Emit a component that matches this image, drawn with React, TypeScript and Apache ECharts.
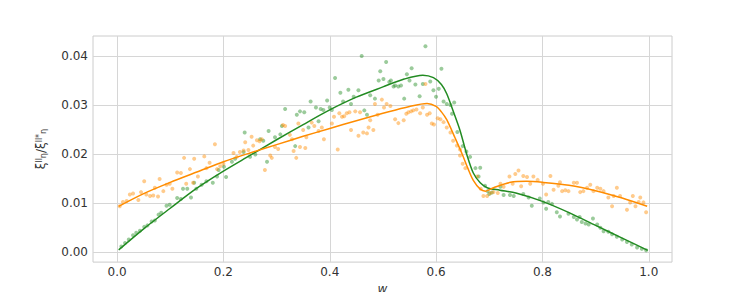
import React, { useEffect, useRef } from "react";
import * as echarts from "echarts";

const xTicks = [0, 0.2, 0.4, 0.6, 0.8, 1.0];
const yTicks = [0, 0.01, 0.02, 0.03, 0.04];

const greenLineW = [0.003, 0.05, 0.1, 0.15, 0.2, 0.25, 0.3, 0.35, 0.4, 0.45, 0.5, 0.54, 0.575, 0.595, 0.61, 0.62, 0.633, 0.645, 0.658, 0.67, 0.683, 0.696, 0.72, 0.75, 0.8, 0.85, 0.9, 0.95, 0.998];
const greenLineV = [0.0004, 0.0047, 0.0089, 0.013, 0.0165, 0.0197, 0.0229, 0.026, 0.029, 0.0316, 0.0337, 0.0353, 0.0361, 0.0356, 0.0342, 0.0323, 0.0285, 0.0248, 0.0198, 0.0161, 0.0141, 0.0131, 0.0126, 0.012, 0.0103, 0.008, 0.0054, 0.0028, 0.0003];

const orangeLineW = [0.003, 0.05, 0.1, 0.15, 0.2, 0.25, 0.3, 0.35, 0.4, 0.45, 0.5, 0.55, 0.583, 0.6, 0.61, 0.62, 0.636, 0.649, 0.66, 0.67, 0.683, 0.693, 0.708, 0.74, 0.77, 0.8, 0.85, 0.9, 0.95, 0.997];
const orangeLineV = [0.0093, 0.0119, 0.0142, 0.0163, 0.0184, 0.0202, 0.0219, 0.0236, 0.0252, 0.0268, 0.0283, 0.0297, 0.0303, 0.0297, 0.0286, 0.027, 0.0232, 0.02, 0.017, 0.0146, 0.0128, 0.0124, 0.0131, 0.0142, 0.0144, 0.0142, 0.0136, 0.0125, 0.011, 0.0093];

const greenDotW = [0.008, 0.015, 0.022, 0.03, 0.036, 0.043, 0.051, 0.057, 0.065, 0.071, 0.078, 0.083, 0.093, 0.099, 0.113, 0.12, 0.124, 0.132, 0.139, 0.145, 0.149, 0.159, 0.168, 0.18, 0.188, 0.191, 0.205, 0.201, 0.216, 0.222, 0.238, 0.24, 0.25, 0.26, 0.269, 0.275, 0.285, 0.282, 0.297, 0.307, 0.31, 0.316, 0.338, 0.344, 0.335, 0.352, 0.36, 0.364, 0.374, 0.379, 0.383, 0.388, 0.395, 0.4, 0.404, 0.41, 0.42, 0.425, 0.435, 0.44, 0.445, 0.454, 0.46, 0.465, 0.47, 0.476, 0.485, 0.492, 0.495, 0.501, 0.506, 0.512, 0.515, 0.52, 0.523, 0.529, 0.534, 0.54, 0.545, 0.55, 0.554, 0.561, 0.569, 0.575, 0.58, 0.589, 0.595, 0.6, 0.605, 0.61, 0.614, 0.62, 0.627, 0.634, 0.63, 0.64, 0.65, 0.657, 0.664, 0.674, 0.683, 0.68, 0.692, 0.697, 0.7, 0.705, 0.721, 0.727, 0.739, 0.746, 0.764, 0.774, 0.78, 0.795, 0.802, 0.807, 0.811, 0.818, 0.827, 0.833, 0.849, 0.859, 0.865, 0.87, 0.874, 0.881, 0.887, 0.895, 0.903, 0.909, 0.915, 0.924, 0.931, 0.94, 0.95, 0.959, 0.968, 0.978, 0.987, 0.995];
const greenDotV = [0.0011, 0.0018, 0.0025, 0.0034, 0.0039, 0.0043, 0.0051, 0.0054, 0.0062, 0.0064, 0.0076, 0.008, 0.0094, 0.0096, 0.011, 0.0108, 0.0129, 0.0129, 0.0111, 0.0141, 0.0129, 0.0137, 0.0144, 0.0141, 0.0154, 0.0167, 0.0153, 0.0174, 0.0184, 0.019, 0.0204, 0.0244, 0.0194, 0.0199, 0.023, 0.0227, 0.0247, 0.0184, 0.0234, 0.024, 0.0257, 0.0292, 0.028, 0.0287, 0.0216, 0.0285, 0.0254, 0.0307, 0.0295, 0.0267, 0.0292, 0.029, 0.0309, 0.0295, 0.029, 0.0355, 0.0325, 0.0307, 0.0331, 0.0302, 0.0317, 0.033, 0.04, 0.0289, 0.028, 0.032, 0.0313, 0.035, 0.0369, 0.0353, 0.0388, 0.0347, 0.035, 0.0338, 0.034, 0.0338, 0.034, 0.0313, 0.0363, 0.035, 0.0375, 0.0342, 0.0318, 0.0343, 0.042, 0.0348, 0.033, 0.0317, 0.0333, 0.0374, 0.0307, 0.0302, 0.03, 0.0305, 0.0282, 0.0245, 0.0216, 0.0205, 0.0194, 0.0171, 0.0172, 0.0154, 0.0135, 0.0124, 0.0118, 0.0121, 0.0133, 0.0116, 0.0116, 0.0114, 0.0118, 0.0111, 0.0094, 0.0109, 0.0101, 0.0088, 0.0102, 0.0098, 0.0081, 0.0072, 0.0078, 0.0071, 0.0066, 0.0071, 0.0061, 0.0058, 0.0056, 0.0068, 0.0056, 0.0049, 0.0042, 0.0041, 0.0036, 0.0031, 0.0025, 0.002, 0.0015, 0.0009, 0.0006, 0.0003];

const orangeDotW = [0.005, 0.011, 0.018, 0.024, 0.03, 0.04, 0.045, 0.051, 0.055, 0.062, 0.068, 0.071, 0.077, 0.08, 0.087, 0.093, 0.099, 0.104, 0.113, 0.12, 0.126, 0.13, 0.137, 0.143, 0.145, 0.152, 0.164, 0.168, 0.174, 0.184, 0.188, 0.194, 0.2, 0.219, 0.225, 0.231, 0.238, 0.241, 0.247, 0.253, 0.256, 0.263, 0.268, 0.272, 0.278, 0.288, 0.291, 0.297, 0.303, 0.312, 0.316, 0.325, 0.329, 0.332, 0.337, 0.341, 0.344, 0.35, 0.356, 0.354, 0.366, 0.371, 0.379, 0.385, 0.389, 0.404, 0.408, 0.415, 0.418, 0.423, 0.427, 0.432, 0.437, 0.44, 0.448, 0.454, 0.457, 0.463, 0.47, 0.473, 0.476, 0.482, 0.485, 0.49, 0.498, 0.502, 0.507, 0.514, 0.523, 0.529, 0.539, 0.544, 0.548, 0.553, 0.557, 0.563, 0.57, 0.575, 0.58, 0.583, 0.588, 0.592, 0.596, 0.603, 0.608, 0.614, 0.62, 0.627, 0.632, 0.639, 0.645, 0.645, 0.65, 0.655, 0.677, 0.684, 0.689, 0.696, 0.702, 0.708, 0.716, 0.721, 0.727, 0.738, 0.744, 0.749, 0.755, 0.76, 0.764, 0.771, 0.777, 0.783, 0.791, 0.801, 0.807, 0.815, 0.821, 0.83, 0.833, 0.837, 0.843, 0.849, 0.859, 0.865, 0.871, 0.877, 0.884, 0.89, 0.896, 0.903, 0.909, 0.915, 0.924, 0.934, 0.931, 0.94, 0.946, 0.959, 0.965, 0.97, 0.975, 0.981, 0.984, 0.99, 0.995];
const orangeDotV = [0.0093, 0.0102, 0.0104, 0.0117, 0.0119, 0.0106, 0.0122, 0.0144, 0.0117, 0.0114, 0.0115, 0.0131, 0.0113, 0.0149, 0.0124, 0.0137, 0.0139, 0.0129, 0.0162, 0.0161, 0.0192, 0.0139, 0.0169, 0.0141, 0.019, 0.0154, 0.0195, 0.0171, 0.0182, 0.022, 0.0169, 0.0175, 0.018, 0.0202, 0.0194, 0.0204, 0.0207, 0.0224, 0.0208, 0.0235, 0.0217, 0.0228, 0.0226, 0.023, 0.0167, 0.0197, 0.0192, 0.0214, 0.021, 0.0259, 0.0257, 0.0239, 0.023, 0.0206, 0.0192, 0.0262, 0.0214, 0.0249, 0.0234, 0.0212, 0.0264, 0.0257, 0.0247, 0.0254, 0.023, 0.0262, 0.0276, 0.0209, 0.0283, 0.0276, 0.0277, 0.0283, 0.0285, 0.0249, 0.0287, 0.0237, 0.0285, 0.0244, 0.0242, 0.0254, 0.0269, 0.0249, 0.0302, 0.028, 0.0311, 0.0295, 0.0302, 0.0298, 0.0271, 0.0263, 0.0269, 0.0282, 0.0285, 0.0287, 0.0289, 0.0291, 0.0283, 0.0295, 0.0343, 0.028, 0.0283, 0.0262, 0.026, 0.0273, 0.0271, 0.0265, 0.0254, 0.0244, 0.0227, 0.0217, 0.0209, 0.0197, 0.018, 0.0171, 0.0154, 0.0129, 0.0114, 0.0114, 0.012, 0.0122, 0.012, 0.0139, 0.0133, 0.0154, 0.0139, 0.0159, 0.0166, 0.0134, 0.0155, 0.0153, 0.0139, 0.0154, 0.0147, 0.0139, 0.0117, 0.0155, 0.0127, 0.0135, 0.0142, 0.0124, 0.0126, 0.0124, 0.0141, 0.0141, 0.0122, 0.0124, 0.0131, 0.0137, 0.0124, 0.0131, 0.0129, 0.0124, 0.0111, 0.0114, 0.0093, 0.0131, 0.0114, 0.0086, 0.0101, 0.0114, 0.0093, 0.0102, 0.0111, 0.0101, 0.0081];

const GREEN = "#228b22";
const ORANGE = "#ff8c00";

function pairs(w: number[], v: number[]) {
  return w.map((x, i) => [x, v[i]]);
}

export default function App() {
  const ref = useRef<HTMLDivElement>(null);
  useEffect(() => {
    if (!ref.current) return;
    const chart = echarts.init(ref.current, undefined, { renderer: "svg" });
    const labelStyle = { color: "#333333", fontFamily: "DejaVu Sans", fontSize: 12 };
    chart.setOption({
      animation: false,
      backgroundColor: "#ffffff",
      grid: {
        left: 93,
        right: 75,
        top: 36,
        bottom: 33,
        show: true,
        borderColor: "#cccccc",
        borderWidth: 1,
        backgroundColor: "transparent",
      },
      xAxis: {
        type: "value",
        min: -0.0453,
        max: 1.0437,
        name: "w",
        nameLocation: "middle",
        nameGap: 18,
        nameTextStyle: { color: "#333333", fontFamily: "DejaVu Sans", fontSize: 12, fontStyle: "italic" },
        axisLine: { show: false },
        axisTick: { show: false, customValues: xTicks },
        axisLabel: { ...labelStyle, margin: 4, customValues: xTicks, formatter: (v: number) => v.toFixed(1) },
        splitLine: { show: true, lineStyle: { color: "#d6d6d6", width: 1 } },
      },
      yAxis: {
        type: "value",
        min: -0.0021,
        max: 0.0441,
        name: "{m|ξ}{sp|ll}{sb|η}{m|/ξ}{sp|ll*}{sb|η}",
        nameLocation: "middle",
        nameGap: 46,
        nameRotate: 90,
        nameTextStyle: {
          color: "#333333",
          fontFamily: "DejaVu Sans",
          rich: {
            m: { fontSize: 12, color: "#333333", fontFamily: "DejaVu Sans" },
            sp: { fontSize: 8, color: "#333333", verticalAlign: "top", fontFamily: "DejaVu Sans" },
            sb: { fontSize: 8, color: "#333333", verticalAlign: "bottom", fontFamily: "DejaVu Sans" },
          },
        },
        axisLine: { show: false },
        axisTick: { show: false, customValues: yTicks },
        axisLabel: { ...labelStyle, margin: 5, customValues: yTicks, formatter: (v: number) => v.toFixed(2) },
        splitLine: { show: true, lineStyle: { color: "#d6d6d6", width: 1 } },
      },
      series: [
        {
          type: "scatter",
          data: pairs(greenDotW, greenDotV),
          symbolSize: 4,
          itemStyle: { color: GREEN, opacity: 0.45 },
          z: 2,
        },
        {
          type: "scatter",
          data: pairs(orangeDotW, orangeDotV),
          symbolSize: 4,
          itemStyle: { color: ORANGE, opacity: 0.45 },
          z: 2,
        },
        {
          type: "line",
          data: pairs(greenLineW, greenLineV),
          showSymbol: false,
          smooth: 0.3,
          lineStyle: { color: GREEN, width: 1.5 },
          z: 3,
        },
        {
          type: "line",
          data: pairs(orangeLineW, orangeLineV),
          showSymbol: false,
          smooth: 0.3,
          lineStyle: { color: ORANGE, width: 1.5 },
          z: 3,
        },
      ],
    });
    return () => chart.dispose();
  }, []);
  return <div ref={ref} style={{ width: 747, height: 300, margin: -8 }} />;
}
